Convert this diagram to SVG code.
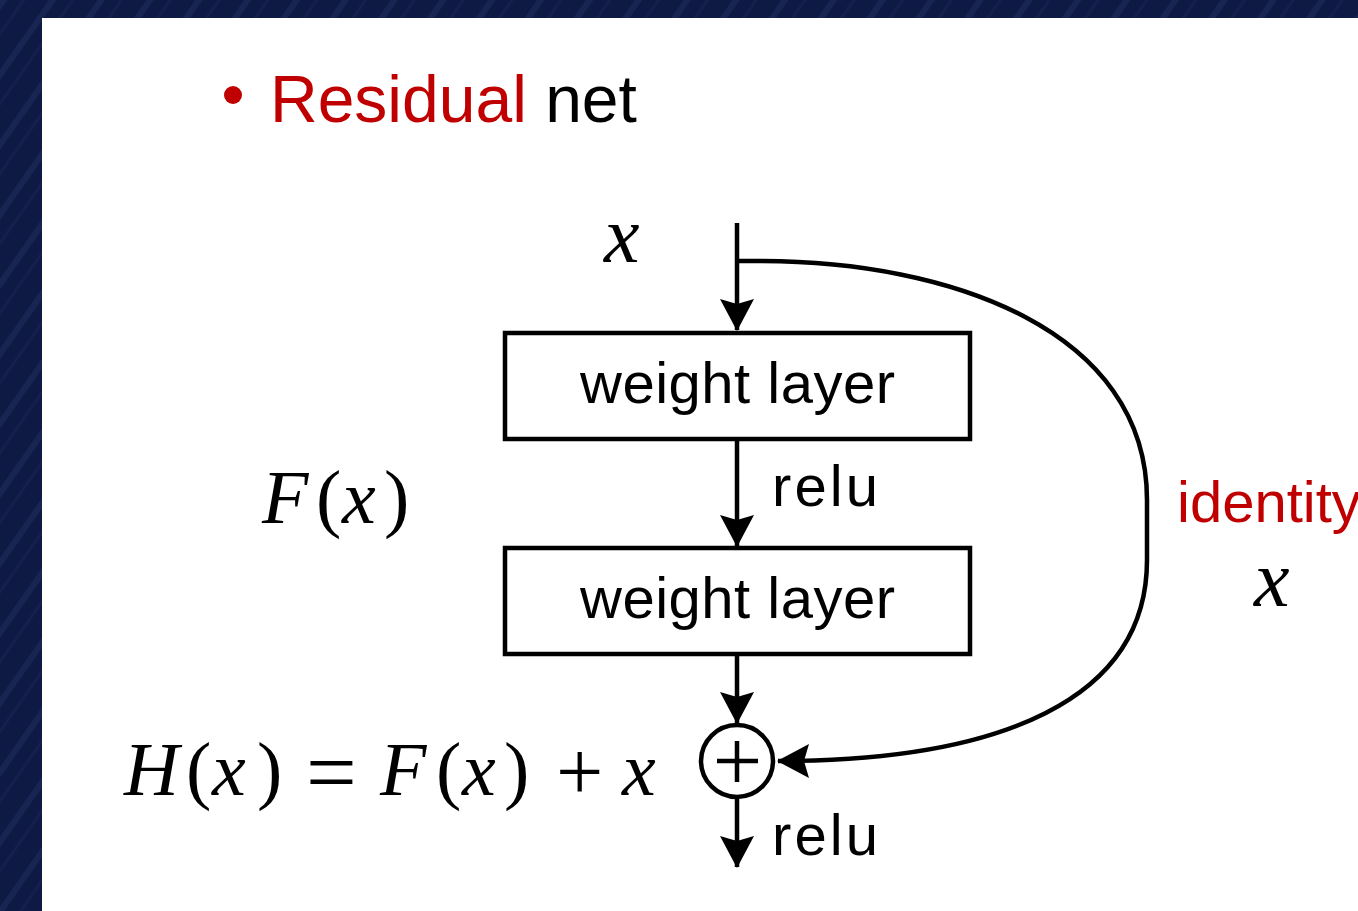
<svg xmlns="http://www.w3.org/2000/svg" width="1358" height="911" viewBox="0 0 1358 911">
<defs>
<pattern id="stripes" width="40" height="40" patternUnits="userSpaceOnUse" patternTransform="rotate(35)">
<rect width="40" height="40" fill="#0f1a44"/>
<rect width="6" height="40" fill="#1a2755" opacity="0.8"/>
<rect x="18" width="3" height="40" fill="#15214d" opacity="0.8"/>
</pattern>
<marker id="arr" viewBox="0 0 32 34" refX="31" refY="17" markerWidth="32" markerHeight="34" markerUnits="userSpaceOnUse" orient="auto">
<path d="M0,0 L32,17 L0,34 L5,17 Z" fill="#000"/>
</marker>
<style>
.box{fill:#fff;stroke:#000;stroke-width:4.5}
.line{fill:none;stroke:#000;stroke-width:4.5}
.lbl{font-family:"Liberation Sans",Arial,sans-serif;font-size:58px;fill:#000}
.red{fill:#c00000}
.math{font-family:"Liberation Serif","Times New Roman",serif;font-size:76px;fill:#000}
.it{font-style:italic}
</style>
</defs>
<rect width="1358" height="911" fill="url(#stripes)"/>
<rect x="42" y="18" width="1316" height="893" fill="#fff"/>

<g id="title">
<circle cx="233" cy="95" r="9" fill="#c00000"/>
<text x="270" y="122" class="lbl" style="font-size:66px"><tspan class="red">Residual</tspan> net</text>
</g>

<g id="input-x">
<text x="604" y="262" class="math it" style="font-size:80px">x</text>
</g>

<g id="layer1">
<rect x="505" y="333" width="465" height="106" class="box"/>
<text x="737.5" y="403" class="lbl" text-anchor="middle" textLength="315">weight layer</text>
</g>

<g id="layer2">
<rect x="505" y="548" width="465" height="106" class="box"/>
<text x="737.5" y="618" class="lbl" text-anchor="middle" textLength="315">weight layer</text>
</g>

<g id="sum">
<circle cx="737" cy="761" r="36" fill="#fff" stroke="#000" stroke-width="4.5"/>
<path d="M717,761 H758 M737,741 V782" stroke="#000" stroke-width="4.5" fill="none"/>
</g>

<g id="connectors">
<path d="M737,223 V330" class="line" marker-end="url(#arr)"/>
<path d="M737,439 V546" class="line" marker-end="url(#arr)"/>
<path d="M737,654 V723" class="line" marker-end="url(#arr)"/>
<path d="M737,797 V867" class="line" marker-end="url(#arr)"/>
<path d="M737,261 H760 C950,261 1147,330 1147,500 L1147,560 C1147,700 1000,761 778,761" class="line" marker-end="url(#arr)"/>
</g>

<g id="labels">
<text x="772" y="506" class="lbl" textLength="106">relu</text>
<text x="772" y="855" class="lbl" textLength="106">relu</text>
<text x="1177" y="522" class="lbl red">identity</text>
<text x="1254" y="606" class="math it" style="font-size:80px">x</text>
<text y="523" class="math"><tspan x="262" class="it">F</tspan><tspan x="316">(</tspan><tspan x="342" class="it">x</tspan><tspan x="384">)</tspan></text>
<text y="795" class="math"><tspan x="124" class="it">H</tspan><tspan x="186">(</tspan><tspan x="212" class="it">x</tspan><tspan x="257">)</tspan><tspan x="306" y="803" style="font-size:90px" textLength="54">=</tspan><tspan x="380" y="795" class="it">F</tspan><tspan x="436">(</tspan><tspan x="462" class="it">x</tspan><tspan x="504">)</tspan><tspan x="556" y="800" style="font-size:84px">+</tspan><tspan x="622" y="795" class="it">x</tspan></text>
</g>
</svg>
